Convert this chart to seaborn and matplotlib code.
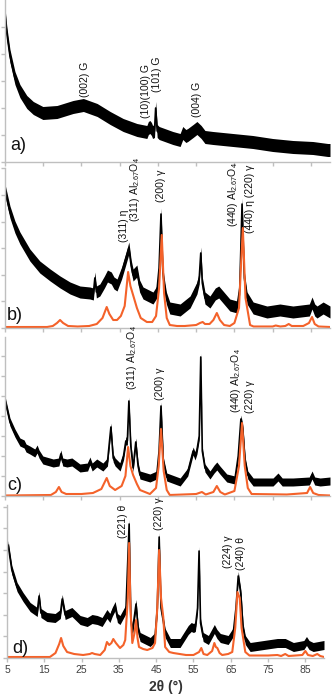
import numpy as np
import seaborn as sns
import matplotlib.pyplot as plt

sns.set_style("white")
plt.rcParams['font.family'] = ['Liberation Sans', 'DejaVu Sans']
plt.rcParams['mathtext.fontset'] = 'custom'
plt.rcParams['mathtext.rm'] = 'Liberation Sans'

# ---- data: 2theta (deg) and intensity (a.u.) ----
a_x = [5.0, 5.5, 6.3, 7.6, 8.9, 10.7, 12.4, 14.9, 18.6, 22.8, 25.5, 29.1, 32.5, 35.9,
       39.5, 42.1, 42.5, 42.9, 43.3, 43.6, 44.1, 44.4, 44.8, 45.3, 48.9, 50.8, 51.5,
       52.3, 52.8, 54.2, 55.2, 56.3, 57.3, 59.4, 64.6, 69.8, 75.0, 80.3, 85.5, 89.4, 90.0]
a_y = [148, 128, 106, 84, 71, 60, 54, 49, 50, 55, 57, 52, 44, 37,
       32, 30, 34, 35, 33, 30, 31, 54, 31, 29, 24, 22, 29,
       26, 27, 31, 34, 30, 25, 24, 22, 20, 17, 15, 14, 12, 12]

b_x = [5.0, 6.3, 7.6, 8.9, 11.5, 14.1, 16.8, 19.4, 22.0, 24.6, 27.2, 28.1, 28.5, 28.9,
       29.8, 31.0, 31.8, 32.8, 33.5, 34.3, 35.5, 36.5, 37.4, 38.0, 38.5, 39.5, 40.2,
       41.1, 43.7, 44.7, 45.3, 45.8, 46.3, 46.6, 47.2, 48.1, 50.8, 53.4, 55.2, 55.8,
       56.2, 56.6, 57.3, 58.6, 60.0, 60.9, 61.8, 63.8, 65.7, 66.4, 67.0, 67.6, 68.3,
       69.9, 73.5, 76.9, 80.3, 84.6, 85.3, 86.0, 86.6, 88.2, 90.0]
b_y = [138, 116, 101, 90, 73, 61, 53, 46, 40, 36, 35, 34, 50, 36,
       38, 46, 52, 50, 45, 43, 55, 68, 80, 62, 53, 57, 42,
       35, 30, 36, 60, 114, 55, 45, 30, 20, 18, 26, 40, 50,
       75, 45, 30, 26, 34, 36, 32, 23, 21, 40, 124, 50, 30,
       20, 16, 18, 16, 18, 25, 18, 16, 20, 16]
b_calc_x = [5, 16, 17.5, 18.6, 19.4, 20.2, 21.5, 24, 27, 29, 30.5, 31.6, 32.3, 33.3, 34.3,
            35.3, 36.3, 37.2, 37.8, 38.5, 39.5, 40.5, 42.1, 43.5, 44.5, 45.3, 46.0, 46.6,
            47.3, 48.1, 50, 52, 55, 56.0, 56.7, 57.3, 58.5, 59.5, 60.4, 61.2, 62.3, 63.8,
            65, 66.2, 67.2, 67.9, 69.1, 70, 75, 75.8, 77, 78.3, 79.2, 80, 83, 84.5, 85.3,
            86, 87, 90]
b_calc_y = [1, 1, 2, 5, 8, 5, 2, 1.5, 2, 4, 10, 21, 14, 8, 8,
            12, 22, 56, 42, 33, 20, 10, 6, 6, 12, 40, 93, 35,
            10, 3, 2, 2, 3, 5, 6, 4, 4, 8, 15, 8, 3, 2,
            5, 20, 100, 30, 3, 1.5, 1.5, 2.5, 1.5, 2, 4, 2, 2, 5, 11,
            4, 1.5, 1]

c_x = [5.0, 6.3, 7.6, 8.9, 10.0, 10.5, 11.5, 12.8, 13.4, 13.9, 14.9, 17.6, 19.1, 19.6,
       20.1, 21.2, 22.5, 24.6, 26.6, 27.2, 27.8, 29.0, 30.6, 31.8, 32.7, 33.3, 33.8,
       35.1, 36.0, 36.6, 37.0, 37.4, 37.9, 38.5, 39.2, 39.8, 40.3, 42.9, 44.7, 45.3,
       45.8, 46.4, 47.3, 50.8, 52.8, 53.6, 54.2, 54.7, 55.2, 55.8, 56.2, 56.6, 57.3,
       58.6, 59.7, 60.4, 61.2, 63.0, 65.1, 66.0, 66.7, 67.2, 67.8, 68.5, 69.9, 75.1,
       76.4, 77.5, 80.3, 84.6, 85.3, 86.0, 87.4, 90.0]
c_y = [96, 74, 63, 54, 52, 48, 46, 43, 47, 42, 36, 33, 34, 42,
       34, 33, 34, 28, 29, 35, 29, 33, 29, 34, 69, 38, 34,
       29, 40, 55, 55, 95, 50, 28, 54, 30, 21, 18, 21, 45,
       90, 35, 19, 14, 24, 36, 45, 40, 46, 60, 139, 45, 28,
       21, 27, 30, 26, 18, 16, 40, 77, 67, 35, 21, 14, 14,
       19, 14, 14, 15, 21, 15, 14, 15]
c_calc_x = [5, 17, 18.3, 19.1, 19.8, 21, 25, 28, 30.2, 31.6, 32.4, 33.8, 35.5, 36.5, 37.2,
            37.8, 38.5, 39.5, 40.3, 42.9, 44.5, 45.2, 45.8, 46.5, 47.3, 48.1, 55, 56.5,
            57.5, 59.5, 60.4, 61.3, 62.5, 65, 66.2, 67.0, 67.7, 68.5, 69.5, 78.7, 84,
            84.8, 85.6, 87, 90]
c_calc_y = [0.5, 1, 4, 9, 4, 2, 2, 3, 7, 18, 10, 6, 10, 20, 49,
            30, 21, 12, 6, 2, 8, 30, 67, 25, 6, 1, 2, 4,
            1.5, 4, 10, 4, 1.5, 5, 30, 73, 30, 8, 2, 1.5, 3,
            9, 3, 1, 0.5]

d_x = [5.3, 6.3, 7.7, 9.3, 11.2, 13.1, 13.6, 14.1, 15.7, 17.9, 19.3, 19.8, 20.6, 22.4,
       24.6, 26.5, 27.8, 29.2, 30.5, 31.8, 32.6, 33.2, 34.0, 34.6, 35.3, 36.9, 37.75,
       38.2, 38.6, 39.6, 40.2, 40.7, 43.4, 44.7, 45.3, 45.8, 46.3, 46.9, 47.4, 48.8,
       51.4, 53.6, 54.4, 55.0, 55.5, 56.1, 56.5, 56.9, 57.6, 59.0, 60.6, 61.3, 62.2,
       64.3, 65.7, 66.4, 67.0, 67.7, 68.3, 68.9, 70.2, 77.5, 79.6, 81.8, 84.6, 85.3,
       86.0, 87.1, 90.0]
d_y = [113, 88, 71, 61, 51, 46, 62, 45, 41, 40, 44, 59, 43, 46,
       38, 36, 39, 38, 36, 44, 40, 46, 52, 40, 38, 49, 134,
       40, 26, 54, 28, 21, 16, 21, 50, 121, 50, 37, 25, 15,
       15, 28, 31, 30, 31, 50, 107, 35, 21, 18, 29, 24, 20,
       18, 26, 50, 82, 64, 30, 18, 11, 15, 15, 11, 13, 17,
       13, 11, 13]
d_calc_x = [5, 16.5, 18.0, 19.0, 19.5, 20.1, 21.1, 23, 25.4, 27.2, 27.8, 28.5, 30, 31.2,
            31.8, 32.4, 33.0, 33.5, 34.2, 35.3, 36.2, 36.7, 37.4, 37.75, 38.1, 38.6, 39.2,
            39.6, 40.0, 40.4, 41.5, 42.6, 44.0, 44.7, 45.3, 45.8, 46.3, 46.9, 47.4, 48.5,
            49.6, 53, 55, 56.5, 57.1, 57.7, 58.7, 60.0, 60.6, 61.0, 61.4, 62.0, 62.7, 64.3,
            65.4, 66.2, 66.8, 67.4, 67.9, 68.9, 70, 75, 77.5, 78.5, 79.6, 80.5, 84.2, 85.0,
            85.7, 87, 88.2, 89, 90]
d_calc_y = [1, 1, 5, 14, 20, 12, 6, 4, 3, 4, 5, 4, 3, 8,
            16, 13, 15, 19, 15, 10, 13, 18, 60, 115, 50, 15, 25,
            38, 20, 11, 9, 8, 10, 15, 50, 108, 60, 41, 11, 6,
            5, 3, 3, 6, 10, 4, 3, 7, 15, 11, 10, 5, 3, 4,
            6, 30, 66, 60, 30, 6, 2.5, 2.5, 3, 2, 4, 2, 3, 7,
            3, 2, 4, 2, 1]

al = r"Al$\mathregular{_{2.67}}$O$\mathregular{_4}$"
a_labels = [("(002) G", 25.9, 65), ("(10)(100) G", 41.9, 44), ("(101) G", 44.7, 70),
            ("(004) G", 55.2, 45)]
b_labels = [("(311) η", 36.1, 86), ("(311) " + al, 39.0, 106), ("(200) γ", 45.8, 126),
            ("(440) " + al, 64.6, 101), ("(440) η (220) γ", 69.1, 95)]
c_labels = [("(311) " + al, 38.2, 106), ("(200) γ", 45.5, 96),
            ("(440) " + al, 65.4, 83), ("(220) γ", 69.0, 83)]
d_labels = [("(221) θ", 36.1, 120), ("(220) γ", 45.8, 128),
            ("(224) γ", 64.3, 90), ("(240) θ", 67.8, 88)]

panels = [
    # name, box (left, top, right, bottom px), height, ytick step, band, black, calc, labels, letter pos
    ("a)", (5, 0, 330, 162), 162, 27, 6.5, (a_x, a_y), None, a_labels, (6.3, 8)),
    ("b)", (5, 168, 330, 328), 160, 26.6, 6, (b_x, b_y), (b_calc_x, b_calc_y), b_labels, (5.5, 4)),
    ("c)", (5, 337, 330, 496), 159, 20, 4, (c_x, c_y), (c_calc_x, c_calc_y), c_labels, (5.5, 2)),
    ("d)", (7, 505, 324, 658), 153, 21.6, 4.5, (d_x, d_y), (d_calc_x, d_calc_y), d_labels, (6.3, 1)),
]

W, H = 333, 700
fig = plt.figure(figsize=(W / 100, H / 100), dpi=100)
grey = "#bfbfbf"
orange = "#f4622a"

for i, (name, box, height, step, band, black, calc, labels, lpos) in enumerate(panels):
    l, t, r, b = box
    ax = fig.add_axes([l / W, 1 - b / H, (r - l) / W, (b - t) / H])
    ax.set_facecolor("none")
    bx, by = np.array(black[0]), np.array(black[1], dtype=float)
    ax.fill_between(bx, by - band, by + band, color="black", lw=0)
    sns.lineplot(x=bx, y=by, color="black", lw=1.2, estimator=None, ax=ax)
    if calc is not None:
        sns.lineplot(x=calc[0], y=calc[1], color=orange, lw=1.5, estimator=None, ax=ax)
    for txt, x, y in labels:
        ax.text(x, y, txt, rotation=90, ha="center", va="bottom", fontsize=7.5, color="#111111")
    ax.text(lpos[0], lpos[1], name, ha="left", va="bottom", fontsize=13, color="#111111")

    ax.set_xlim(5, 90)
    ax.set_ylim(0, height)
    ax.set_xticks(range(5, 90, 10))
    ax.set_yticks(np.arange(0, height, step))
    ax.set_yticklabels([])
    sns.despine(ax=ax)
    for s in ("left", "bottom"):
        ax.spines[s].set_color(grey)
        ax.spines[s].set_linewidth(1)
    ax.tick_params(direction="out", length=3, width=1, color=grey,
                   labelcolor="#404040", labelsize=7.5, left=True, bottom=True, pad=2)
    if i < 3:
        ax.set_xticklabels([])
        ax.set_xlabel("")
    else:
        ax.set_xlabel("2θ (°)", fontsize=10, fontweight="bold", color="#333333", labelpad=4)
    ax.set_ylabel("")

fig.savefig("out.png", dpi=100)
